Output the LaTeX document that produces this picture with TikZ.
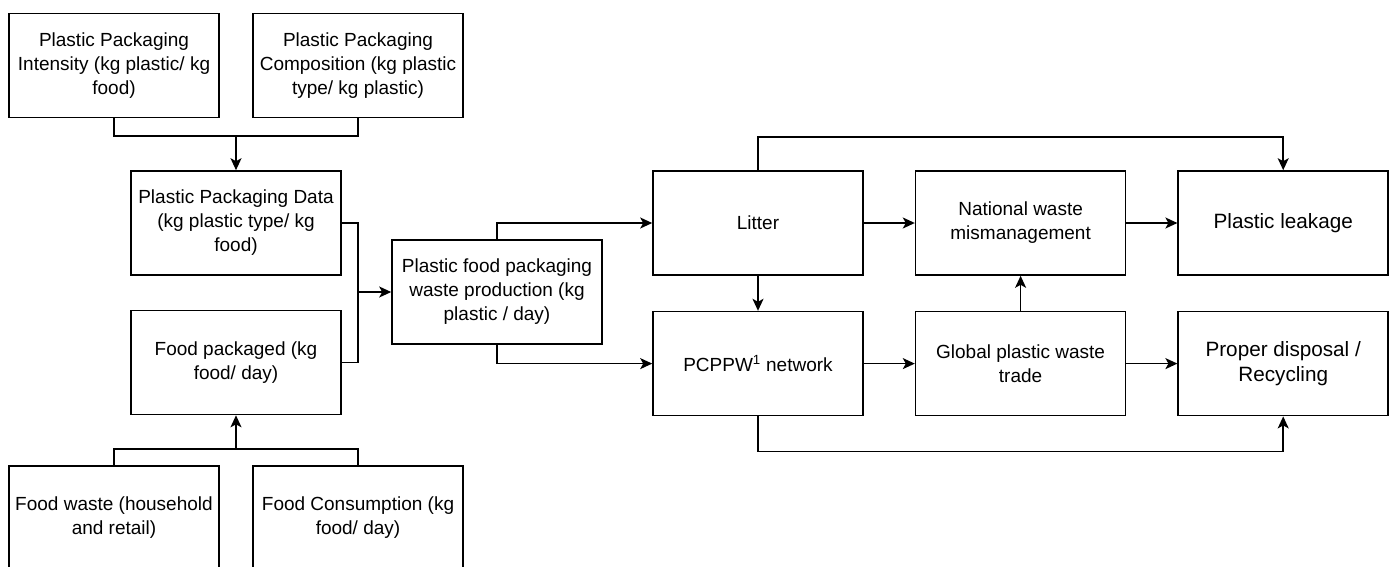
\documentclass[tikz,border=0pt]{standalone}
\usepackage{fontspec}
\setmainfont{Liberation Sans}
\usetikzlibrary{positioning,arrows.meta}

\begin{document}
\begin{tikzpicture}[x=1pt,y=-1pt,
    line width=1.6pt,
    every node/.style={font=\fontsize{19}{24}\selectfont},
    box/.style={draw,rectangle,align=center,minimum width=210pt,minimum height=104pt,inner sep=0pt},
    bigtext/.style={font=\fontsize{20.7}{25}\selectfont},
    flow/.style={-{Stealth[length=12pt,width=11pt,inset=3pt]}},
    node distance=35pt and 51pt
    ]
    \useasboundingbox (0,0) rectangle (1390,566);

    % the packaging inputs
    \node[box] (intensity) at (114,65.5) {Plastic Packaging\\Intensity (kg plastic/ kg\\food)};
    \node[box] (composition) at (358,65.5) {Plastic Packaging\\Composition (kg plastic\\type/ kg plastic)};
    \node[box] (packdata) at (236,223) {Plastic Packaging Data\\(kg plastic type/ kg\\food)};

    % the food inputs
    \node[box] (packaged) at (236,362.5) {Food packaged (kg\\food/ day)};
    \node[box] (foodwaste) at (114,518) {Food waste (household\\and retail)};
    \node[box] (consumption) at (358,518) {Food Consumption (kg\\food/ day)};

    % the waste production
    \node[box] (production) at (497,292) {Plastic food packaging\\waste production (kg\\plastic / day)};

    % the fate of the waste
    \node[box] (litter) at (758,223) {Litter};
    \node[box,below=of litter] (network) {PCPPW\textsuperscript{1} network};
    \node[box,right=of litter] (mismanage) {National waste\\mismanagement};
    \node[box,right=of network] (trade) {Global plastic waste\\trade};
    \node[box,bigtext,right=of mismanage] (leakage) {Plastic leakage};
    \node[box,bigtext,right=of trade] (disposal) {Proper disposal /\\Recycling};

    % the joins
    \coordinate (topjoin) at (236,136);
    \coordinate (botjoin) at (236,449);
    \coordinate (midjoin) at (358,292);

    % the edges
    \draw (intensity.south) |- (topjoin) -| (composition.south);
    \draw[flow] (topjoin) -- (packdata.north);
    \draw (foodwaste.north) |- (botjoin) -| (consumption.north);
    \draw[flow] (botjoin) -- (packaged.south);
    \draw (packdata.east) -| (midjoin) |- (packaged.east);
    \draw[flow] (midjoin) -- (production.west);
    \draw[flow] (production.north) |- (litter.west);
    \draw[flow] (production.south) |- (network.west);
    \draw[flow] (litter) -- (network);
    \draw[flow] (litter) -- (mismanage);
    \draw[flow] (mismanage) -- (leakage);
    \draw[flow] (network) -- (trade);
    \draw[flow] (trade) -- (mismanage);
    \draw[flow] (trade) -- (disposal);
    \draw[flow] (litter.north) -- ++(0,-33) -| (leakage.north);
    \draw[flow] (network.south) -- ++(0,35) -| (disposal.south);
\end{tikzpicture}
\end{document}
